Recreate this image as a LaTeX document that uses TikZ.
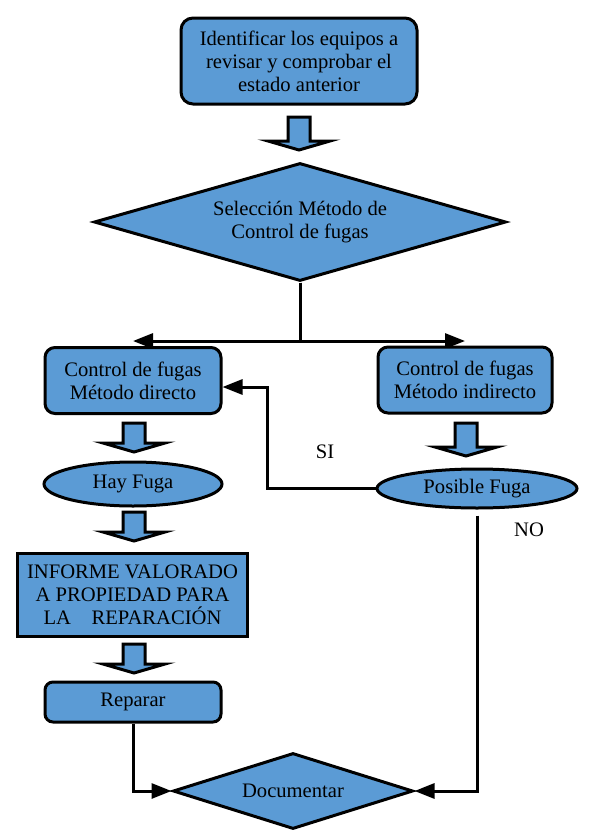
\documentclass[tikz,border=0pt]{standalone}
\usepackage{fontspec}
\setmainfont{Liberation Serif}
\usetikzlibrary{shapes.geometric,arrows.meta,backgrounds}
\definecolor{flowblue}{RGB}{91,155,213}
\begin{document}
\begin{tikzpicture}[x=0.5pt,y=-0.5pt,
                    line width=1.5pt,
                    font=\fontsize{10.3}{11.5}\selectfont,
                    box node/.style={rectangle,rounded corners=5pt,draw,fill=flowblue,align=center,inner sep=0pt},
                    plain box/.style={rectangle,draw,fill=flowblue,align=center,inner sep=0pt},
                    choice node/.style={diamond,draw,fill=flowblue,align=center,inner sep=0pt,aspect=3.4},
                    oval node/.style={ellipse,draw,fill=flowblue,inner sep=0pt},
                    link/.style={line width=1.5pt,-{Triangle[length=10pt,width=7.5pt]}},
                    fat arrow/.style={draw,fill=flowblue,line width=1.5pt}
                   ]
  \useasboundingbox (0,0) rectangle (595,835);
  \node[box node,rounded corners=6pt,minimum width=118pt,minimum height=43pt] (ident) at (299,61) {Identificar los equipos a\\revisar y comprobar el\\estado anterior};
  \node[choice node,minimum width=206pt,minimum height=59pt] (sel) at (300,222) {Selección Método de\\Control de fugas};
  \node[box node,minimum width=88pt,minimum height=33pt] (cfd) at (133,380.5) {Control de fugas\\Método directo};
  \node[box node,minimum width=87pt,minimum height=33pt] (cfi) at (465,380) {Control de fugas\\Método indirecto};
  \node[oval node,minimum width=89pt,minimum height=22pt] (hay) at (133,484) {Hay Fuga};
  \node[oval node,minimum width=100pt,minimum height=19.5pt] (pos) at (477,488.5) {Posible Fuga};
  \node[plain box,minimum width=115pt,minimum height=41.5pt] (inf) at (132.5,595) {INFORME VALORADO\\A PROPIEDAD PARA\\LA\hspace{1em}REPARACIÓN};
  \node[box node,rounded corners=4pt,minimum width=88pt,minimum height=20pt] (rep) at (133,702) {Reparar};
  \node[choice node,aspect=3.2,minimum width=120pt,minimum height=38pt] (doc) at (293,791) {Documentar};
  \node (si label) at (325,452) {SI};
  \node (no label) at (529,530) {NO};
  % block arrows between the steps
  \foreach \x/\ya/\yb in {299/117/150,134/423/452,466/423/456,134/512/541,134/644/673}
    \draw[fat arrow] (\x-11,\ya) -- (\x+11,\ya) -- (\x+11,\yb-9) -- (\x+31,\yb-9) -- (\x,\yb) -- (\x-31,\yb-9) -- (\x-11,\yb-9) -- cycle;
  \begin{scope}[on background layer]
    \coordinate (split) at (300,341);
    \coordinate (si) at (267,387);
    \draw[link] (sel.south) |- (split -| cfd);
    \draw[link] (sel.south) |- (split -| cfi);
    \draw[link] (pos.west) -| (si) -- (si -| cfd.east);
    \draw[link,shorten <=3pt] (pos.south) |- (doc.east);
    \draw[link] (rep.south) |- (doc.west);
  \end{scope}
\end{tikzpicture}
\end{document}
